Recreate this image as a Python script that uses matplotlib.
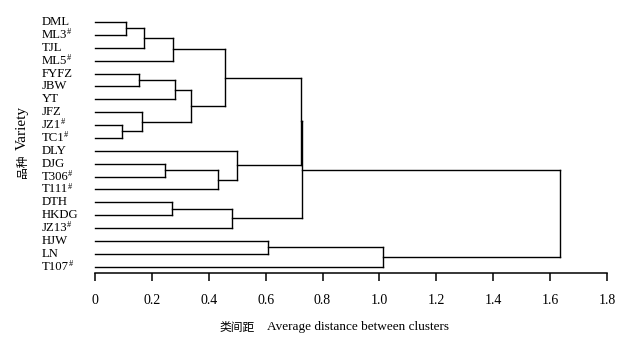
import numpy as np
import matplotlib
matplotlib.use("Agg")
import matplotlib.pyplot as plt
import matplotlib.transforms as mtransforms

# leaves, top to bottom
leaves = ['DML', 'ML3', 'TJL', 'ML5', 'FYFZ', 'JBW', 'YT', 'JFZ', 'JZ1', 'TC1',
          'DLY', 'DJG', 'T306', 'T111', 'DTH', 'HKDG', 'JZ13', 'HJW', 'LN', 'T107']
# varieties marked with #
marked = ['ML3', 'ML5', 'JZ1', 'TC1', 'T306', 'T111', 'JZ13', 'T107']

# merges: (child a, child b, distance); ints < 20 are leaves, n >= 20 is merge n-20
merge_a = [0, 20, 21, 4, 23, 8, 7, 24, 22, 11, 29, 10, 14, 32, 28, 17, 35, 34, 36]
merge_b = [1, 2, 3, 5, 6, 9, 25, 26, 27, 12, 13, 30, 15, 16, 31, 18, 19, 33, 37]
merge_h = [0.109, 0.173, 0.273, 0.154, 0.281, 0.094, 0.164, 0.337, 0.457,
           0.247, 0.433, 0.500, 0.272, 0.482, 0.723, 0.607, 1.012, 0.727, 1.634]

fig = plt.figure(figsize=(6.33, 3.45), dpi=100)
ax = fig.add_axes([95 / 633, 1 - 273 / 345, 512 / 633, 257.4 / 345])

n = len(leaves)
ypos = {i: float(i) for i in range(n)}
xpos = {i: 0.0 for i in range(n)}
lw = 1.0
for k, (a, b, h) in enumerate(zip(merge_a, merge_b, merge_h)):
    node = n + k
    for c in (a, b):
        ax.plot([xpos[c], h], [ypos[c], ypos[c]], color='black', lw=lw,
                clip_on=False, solid_capstyle='projecting')
    ax.plot([h, h], [ypos[a], ypos[b]], color='black', lw=lw, clip_on=False,
            solid_capstyle='projecting')
    ypos[node] = (ypos[a] + ypos[b]) / 2
    xpos[node] = h

ax.set_xlim(0, 1.8)
ax.set_ylim(n - 0.51, -0.5)
for s in ['left', 'top', 'right']:
    ax.spines[s].set_visible(False)
ax.spines['bottom'].set_linewidth(1.1)
ax.set_yticks([])
ax.set_xticks(np.arange(0, 1.81, 0.2))
ax.set_xticklabels(['0', '0.2', '0.4', '0.6', '0.8', '1.0', '1.2', '1.4', '1.6', '1.8'],
                   fontfamily='Liberation Serif', fontsize=10)
ax.tick_params(axis='x', direction='out', length=6, width=1.1, pad=9)

trans = mtransforms.blended_transform_factory(fig.transFigure, ax.transData)
for i, name in enumerate(leaves):
    t = ax.text(42 / 633, i, name, transform=trans, ha='left', va='center',
                fontfamily='Liberation Serif', fontsize=9.2)
    if name in marked:
        ax.annotate('#', xy=(1, 0.92), xycoords=t, xytext=(-0.4, 1.2),
                    textcoords='offset points', ha='left', va='top',
                    fontfamily='Liberation Serif', fontsize=6)

# y label: Chinese and English parts
fig.text(22 / 633, 1 - 127.5 / 345, 'Variety', rotation=90, ha='center', va='center',
         fontfamily='Liberation Serif', fontsize=11)
fig.text(22 / 633, 1 - 166 / 345, '品种', rotation=90, ha='center', va='center',
         fontfamily='Noto Sans CJK SC', fontsize=8.5)

fig.text(237 / 633, 1 - 327 / 345, '类间距', ha='center', va='center',
         fontfamily='Noto Sans CJK SC', fontsize=8.5)
fig.text(358 / 633, 1 - 327 / 345, 'Average distance between clusters',
         ha='center', va='center', fontfamily='Liberation Serif', fontsize=9.5)

fig.savefig('out.png', dpi=100, facecolor='white')
